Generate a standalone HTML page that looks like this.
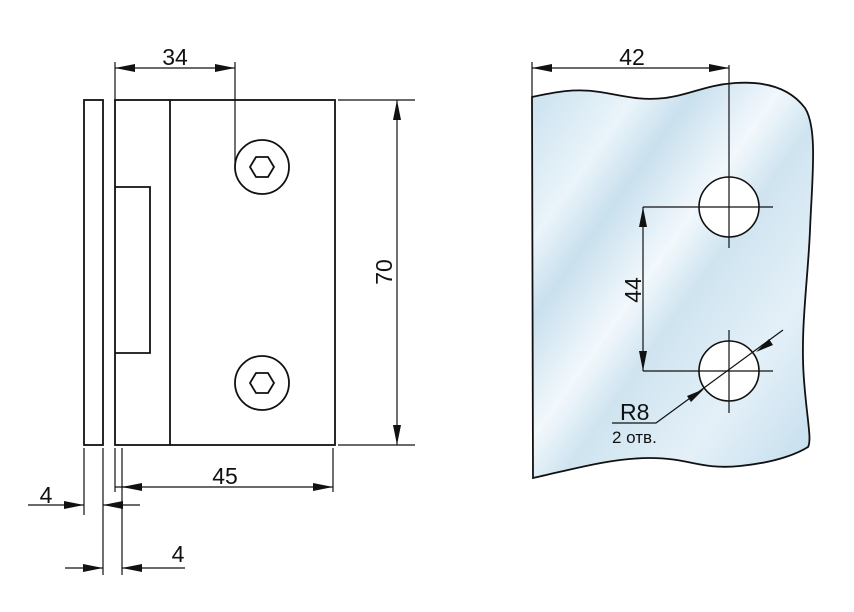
<!DOCTYPE html>
<html><head><style>body{margin:0;background:#fff}svg{display:block}text{font-family:"Liberation Sans","DejaVu Sans",sans-serif;fill:#111}</style></head><body>
<svg width="854" height="612" viewBox="0 0 854 612" xmlns="http://www.w3.org/2000/svg">
<defs>
<marker id="a" viewBox="0 0 20 8" refX="20" refY="4" markerWidth="20" markerHeight="8" markerUnits="userSpaceOnUse" orient="auto-start-reverse"><path d="M0,0L20,4L0,8z" fill="#111"/></marker>
<linearGradient id="g" x1="0" y1="0" x2="1" y2="1">
<stop offset="0" stop-color="#c8e0ee"/><stop offset="0.2" stop-color="#eaf4fa"/><stop offset="0.3" stop-color="#c9e0ee"/><stop offset="0.45" stop-color="#f2f8fc"/><stop offset="0.55" stop-color="#cfe4f0"/><stop offset="0.75" stop-color="#e4f0f8"/><stop offset="1" stop-color="#c2dcec"/></linearGradient>
</defs>
<g fill="none" stroke="#111" stroke-width="1.8">
<rect x="84" y="100" width="19" height="345" fill="#fff"/>
<rect x="115" y="100" width="220" height="345" fill="#fff"/>
<line x1="170" y1="100" x2="170" y2="445"/>
<polyline points="115,187 150,187 150,353 115,353"/>
<circle cx="262" cy="167" r="27"/><circle cx="262" cy="383" r="27"/>
<polygon points="250,167 256,157 268,157 274,167 268,177 256,177"/>
<polygon points="250,383 256,373 268,373 274,383 268,393 256,393"/>
<g stroke-width="1.2">
<line x1="115" y1="62" x2="115" y2="100"/><line x1="235" y1="62" x2="235" y2="167"/>
<line x1="115" y1="68" x2="235" y2="68" marker-start="url(#a)" marker-end="url(#a)"/>
<line x1="338" y1="100" x2="415" y2="100"/><line x1="338" y1="445" x2="415" y2="445"/>
<line x1="397" y1="100" x2="397" y2="445" marker-start="url(#a)" marker-end="url(#a)"/>
<line x1="333" y1="448" x2="333" y2="492"/><line x1="115" y1="448" x2="115" y2="492"/>
<line x1="115" y1="487" x2="333" y2="487" marker-end="url(#a)"/>
<line x1="122" y1="487" x2="142" y2="487" marker-start="url(#a)"/>
<line x1="84" y1="448" x2="84" y2="515"/><line x1="103" y1="448" x2="103" y2="575"/><line x1="122" y1="448" x2="122" y2="575"/>
<line x1="28" y1="505" x2="84" y2="505" marker-end="url(#a)"/><line x1="140" y1="505" x2="103" y2="505" marker-end="url(#a)"/>
<line x1="65" y1="568" x2="103" y2="568" marker-end="url(#a)"/><line x1="185" y1="568" x2="122" y2="568" marker-end="url(#a)"/>
</g>
</g>
<text x="175" y="65" font-size="23" text-anchor="middle">34</text>
<text x="225" y="484" font-size="23" text-anchor="middle">45</text>
<text x="46" y="503" font-size="23" text-anchor="middle">4</text>
<text x="178" y="562" font-size="23" text-anchor="middle">4</text>
<text transform="translate(392,272) rotate(-90)" font-size="23" text-anchor="middle">70</text>
<path d="M532,97 C555,92 575,88 600,92 C625,96 640,101 665,98 C690,95 705,85 735,83 C765,81 790,88 805,108 C818,128 812,180 810,230 C808,280 800,330 804,380 C807,420 812,440 808,447 C800,452 780,462 740,466 C700,470 690,458 650,458 C610,458 570,470 533,478 Z" fill="url(#g)" stroke="#111" stroke-width="1.8"/>
<g fill="none" stroke="#111">
<circle cx="729" cy="207" r="30" fill="#fff" stroke-width="1.6"/><circle cx="729" cy="371" r="30" fill="#fff" stroke-width="1.6"/>
<g stroke-width="1.2">
<line x1="532" y1="62" x2="532" y2="97"/><line x1="729" y1="65" x2="729" y2="248"/>
<line x1="532" y1="68" x2="729" y2="68" marker-start="url(#a)" marker-end="url(#a)"/>
<line x1="643" y1="207" x2="773" y2="207"/><line x1="643" y1="371" x2="773" y2="371"/>
<line x1="643" y1="207" x2="643" y2="371" marker-start="url(#a)" marker-end="url(#a)"/>
<line x1="729" y1="330" x2="729" y2="413"/>
<polyline points="612,423 656,423 783,330"/>
</g>
</g>
<path d="M704,389 L687,396 L691,402Z M756,352 L773,345 L769,339Z" fill="#111"/>
<text x="632" y="65" font-size="23" text-anchor="middle">42</text>
<text transform="translate(641,290) rotate(-90)" font-size="23" text-anchor="middle">44</text>
<text x="620" y="420" font-size="23">R8</text>
<text x="612" y="443" font-size="17">2 отв.</text>
</svg>
</body></html>
